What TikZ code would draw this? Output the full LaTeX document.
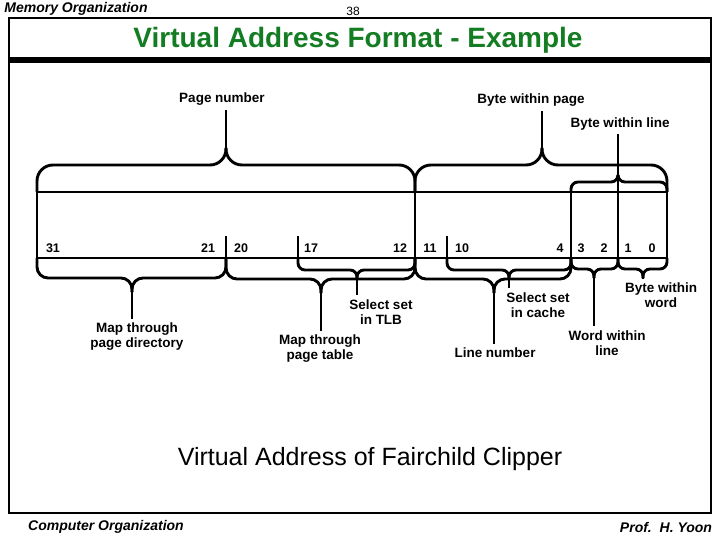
\documentclass[tikz,border=0pt]{standalone}
\usepackage{fontspec}
\setmainfont{Liberation Sans}
\usepackage{tikz}
\usetikzlibrary{positioning}

\definecolor{titlegreen}{RGB}{20,125,35}

\begin{document}
\begin{tikzpicture}[
    x=1pt, y=-1pt,
    field/.style={line width=2.9pt},
    curly/.style={line width=2.9pt, rounded corners=#1},
    curly/.default=10pt,
    link/.style={line width=2.9pt, shorten >=3pt},
    lbl/.style={font=\bfseries\fontsize{13.5}{15}\selectfont, align=center, inner sep=1pt},
    bitno/.style={font=\bfseries\fontsize{12.5}{14}\selectfont, inner sep=0pt},
    foot/.style={font=\bfseries\itshape\fontsize{14}{16}\selectfont, inner sep=0pt}
]
\useasboundingbox (0,0) rectangle (720,540);

% page frame
\node[foot] (hdr) at (76,9) {Memory Organization};
\node[font=\fontsize{12}{14}\selectfont, inner sep=0pt] (pgno) at (353,11) {38};
\draw[line width=1.5pt] (9,18) rectangle (711,513);
\fill (9,57) rectangle (711,63);
\node[font=\bfseries\fontsize{28}{30}\selectfont, text=titlegreen] (title) at (358,40) {Virtual Address Format - Example};
\node[foot] (course) at (106,527) {Computer Organization};
\node[foot] (prof) at (666,527) {Prof.\ \ H.\ Yoon};

% address register
\draw[field] (37,192) rectangle (667,258);
\foreach \x in {415,571,618} \draw[field] (\x,192) -- (\x,258);
\foreach \x in {226,298,447} \draw[field] (\x,236) -- (\x,258);
\coordinate (bit2top) at (618,192);
\foreach \x/\n in {53/31, 208/21, 241/20, 311/17, 400/12, 430/11, 462/10,
                   560/4, 581/3, 604/2, 628/1, 652/0}
    \node[bitno] (bit\n) at (\x,248) {\n};

% labels
\node[lbl] (pnum) at (222,99) {Page number};
\node[lbl] (bwp) at (531,100) {Byte within page};
\node[lbl] (bwl) at (620,124) {Byte within line};
\node[lbl] (pd) at (137,337) {Map through\\page directory};
\node[lbl] (pt) at (320,349) {Map through\\page table};
\node[lbl] (tlb) at (381,312) {Select set\\in TLB};
\node[lbl] (ln) at (495,353) {Line number};
\node[lbl] (cache) at (538,305) {Select set\\in cache};
\node[lbl] (wwl) at (607,343) {Word within\\line};
\node[lbl] (bww) at (661,295) {Byte within\\word};

% braces above
\draw[curly=16pt] (37,192) |- (226,165) -- (226,148) coordinate (tip-pnum);
\draw[curly=16pt] (415,192) |- (226,165) -- (226,148);
\draw[curly=16pt] (415,192) |- (542,165) -- (542,148) coordinate (tip-bwp);
\draw[curly=16pt] (667,192) |- (542,165) -- (542,148);
\draw[curly=7pt] (571,192) |- (618,182) -- (618,175);
\draw[curly=7pt] (667,192) |- (618,182) -- (618,175);

% braces below
\foreach \a/\m/\b/\y/\t/\r/\n in {37/132/226/278/292/11pt/pd, 226/321/415/279/293/11pt/pt,
        298/357/415/270/279/7pt/tlb, 415/494/571/279/293/11pt/ln,
        447/509/571/270/279/7pt/cache, 571/594/618/269/278/7pt/wwl,
        618/643/667/269/278/7pt/bww} {
    \draw[curly=\r] (\a,258) |- (\m,\y) -- (\m,\t) coordinate (tip-\n);
    \draw[curly=\r] (\b,258) |- (\m,\y) -- (\m,\t);
}

% leader lines
\draw[link] (tip-pnum) -- (tip-pnum |- pnum.south);
\draw[link] (tip-bwp) -- (tip-bwp |- bwp.south);
\draw[link] (bit2top) -- (bit2top |- bwl.south);
\foreach \n in {pd,pt,tlb,ln,cache,wwl,bww}
    \draw[link] (tip-\n) -- (tip-\n |- \n.north);

\node[font=\fontsize{25}{28}\selectfont] (caption) at (370,459) {Virtual Address of Fairchild Clipper};
\end{tikzpicture}
\end{document}
